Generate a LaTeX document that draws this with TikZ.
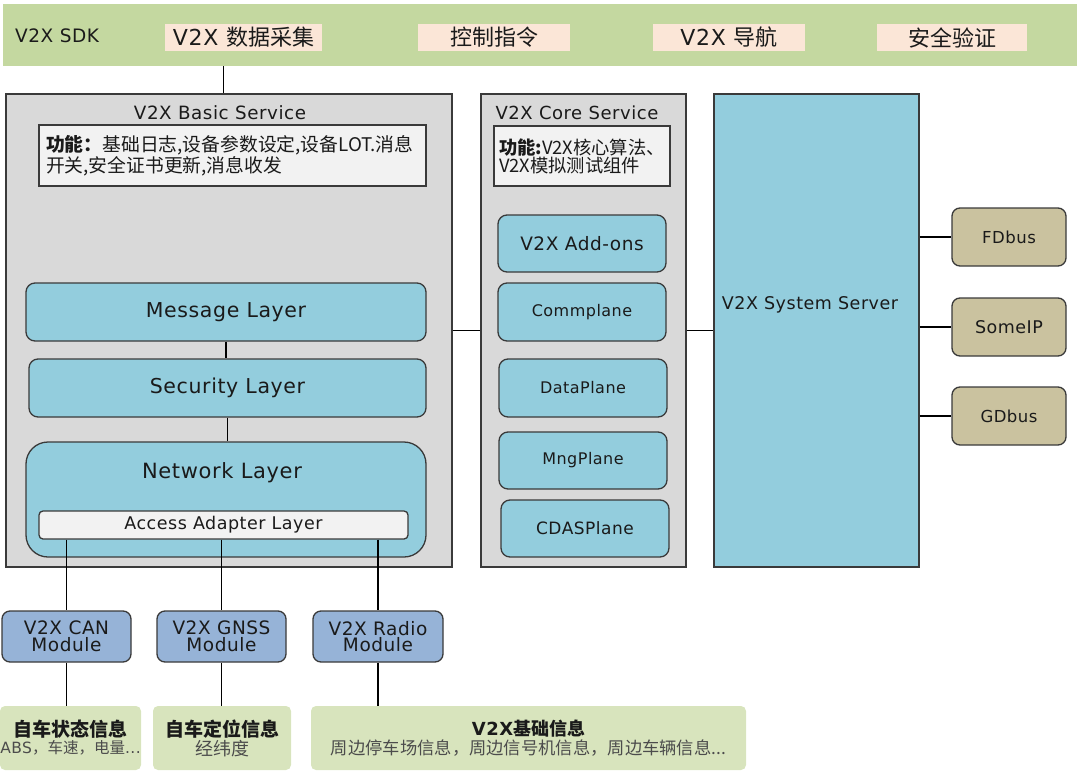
\documentclass[tikz,border=0pt]{standalone}
\usepackage{fontspec}
\setmainfont{DejaVu Sans}[LetterSpace=3]
\newfontfamily\cjk{Noto Sans CJK SC}
\usetikzlibrary{calc}
\definecolor{sdkgreen}{HTML}{C4D8A0}
\definecolor{peach}{HTML}{FBE6D7}
\definecolor{svgray}{HTML}{D9D9D9}
\definecolor{lightf}{HTML}{F2F2F2}
\definecolor{layblue}{HTML}{93CDDD}
\definecolor{modblue}{HTML}{96B3D7}
\definecolor{tan}{HTML}{CAC29F}
\definecolor{infogreen}{HTML}{D8E4BD}
\definecolor{edge}{HTML}{3A3A3A}
\definecolor{txt}{HTML}{1A1A1A}
\tikzset{
  fs/.style={font=\fontsize{#1}{#1}\selectfont},
  box/.style={draw=edge, line width=1.3pt, inner sep=0pt, text=txt, align=center},
  svc/.style={box, fill=svgray},
  funcbox/.style={box, fill=lightf, align=left, text width=#1, inner ysep=0pt},
  layer/.style={box, fill=layblue, rounded corners=9pt, fs=20.5},
  plane/.style={box, fill=layblue, rounded corners=9pt, fs=16},
  module/.style={box, fill=modblue, rounded corners=8pt, font=\fontsize{18.5}{16.5}\selectfont},
  bus/.style={box, fill=tan, rounded corners=8pt, fs=16.5},
  peachbox/.style={fill=peach, inner sep=0pt, minimum height=27pt, fs=22, text=txt},
  infobox/.style={fill=infogreen, rounded corners=5pt, inner sep=0pt, minimum height=64pt, align=center, text=txt},
  conn/.style={draw=black, line width=1.4pt},
}
\begin{document}
\begin{tikzpicture}[x=1pt, y=-1pt]
\useasboundingbox (0,0) rectangle (1080,782);

% SDK bar
\node[fill=sdkgreen, minimum width=1074pt, minimum height=62pt, inner sep=0pt] (sdk) at (540,35) {};
\node[anchor=west, fs=18.5, text=txt, inner sep=0pt] (sdklabel) at (15,36) {V2X SDK};
\node[peachbox, minimum width=157pt] (p1) at (243.5,37.5) {V2X {\cjk 数据采集}};
\node[peachbox, minimum width=152pt] (p2) at (494,37.5) {\cjk 控制指令};
\node[peachbox, minimum width=152pt] (p3) at (729,37.5) {V2X {\cjk 导航}};
\node[peachbox, minimum width=150pt] (p4) at (952,37.5) {\cjk 安全验证};

% Basic service
\node[svc, minimum width=446pt, minimum height=473pt] (basic) at (229,330.5) {};
\node[fs=18.3, text=txt, inner sep=0pt] (btitle) at (220,113) {V2X Basic Service};
\node[funcbox=373pt, inner xsep=7pt, minimum width=387pt, minimum height=61pt] (bfunc) at (232.5,155.5)
  {\fontsize{18.8}{22}\selectfont\cjk\textbf{功能：}基础日志,设备参数设定,设备LOT.消息\\开关,安全证书更新,消息收发};
\node[layer, minimum width=400pt, minimum height=58pt] (msg) at (226,312) {Message Layer};
\node[layer, minimum width=397pt, minimum height=58pt] (sec) at (227.5,388) {Security Layer};
\node[box, fill=layblue, rounded corners=22pt, minimum width=400pt, minimum height=115pt] (net) at (226,499.5) {};
\node[fs=21, text=txt, inner sep=0pt] (netlabel) at (222,473) {Network Layer};
\node[box, fill=lightf, rounded corners=4pt, minimum width=369pt, minimum height=28pt, fs=17.5] (acc) at (223.5,525) {Access Adapter Layer};

% Core service
\node[svc, minimum width=205pt, minimum height=473pt] (core) at (583.5,330.5) {};
\node[fs=18, text=txt, inner sep=0pt] (ctitle) at (577,113) {V2X Core Service};
\node[funcbox=166pt, inner xsep=5pt, minimum width=176pt, minimum height=60pt] (cfunc) at (582,156)
  {\fontsize{18.3}{22}\selectfont\cjk\textbf{功能:}V2X核心算法、\\V2X模拟测试组件};
\node[plane, minimum width=168pt, minimum height=57pt, fs=18.5] (addons) at (582,243.5) {V2X Add-ons};
\node[plane, minimum width=168pt, minimum height=58pt] (comm) at (582,312) {Commplane};
\node[plane, minimum width=168pt, minimum height=58pt] (data) at (583,388) {DataPlane};
\node[plane, minimum width=168pt, minimum height=57pt] (mng) at (583,460.5) {MngPlane};
\node[plane, minimum width=168pt, minimum height=57pt, fs=17] (cdas) at (585,528.5) {CDASPlane};

% System server
\node[box, fill=layblue, minimum width=205pt, minimum height=473pt] (server) at (816.5,330.5) {};
\node[fs=17.5, text=txt, inner sep=0pt] (serverlabel) at (810,305) {V2X System Server};

% Buses
\node[bus, minimum width=114pt, minimum height=58pt] (fd) at (1009,237) {FDbus};
\node[bus, minimum width=114pt, minimum height=58pt, fs=17.5] (some) at (1009,327) {SomeIP};
\node[bus, minimum width=114pt, minimum height=58pt] (gd) at (1009,416) {GDbus};

% Modules
\node[module, minimum width=129pt, minimum height=51pt] (can) at (66.5,636.5) {V2X CAN\\Module};
\node[module, minimum width=129pt, minimum height=51pt] (gnss) at (221.5,636.5) {V2X GNSS\\Module};
\node[module, minimum width=130pt, minimum height=51pt] (radio) at (378,636.5) {V2X Radio\\Module};

% Info boxes
\node[infobox, minimum width=141pt] (g1) at (70.5,738)
  {{\cjk\fontsize{19}{21}\selectfont\bfseries 自车状态信息}\\[1pt]{\color{black!70}\fontsize{15.5}{19}\selectfont ABS{\cjk ，车速，电量}...}};
\node[infobox, minimum width=138pt] (g2) at (222,738)
  {{\cjk\fontsize{19}{21}\selectfont\bfseries 自车定位信息}\\[1pt]{\color{black!70}\cjk\fontsize{18}{19}\selectfont 经纬度}};
\node[infobox, minimum width=435pt] (g3) at (528.5,738)
  {{\fontsize{18}{21}\selectfont\bfseries V2X{\cjk 基础信息}}\\[1pt]{\color{black!70}\cjk\fontsize{17.3}{19}\selectfont 周边停车场信息，周边信号机信息，周边车辆信息...}};

% Connectors
\draw[conn] (sdk.south -| acc) -- (basic.north -| acc);
\draw[conn] (msg.south) -- (msg.south |- sec.north);
\draw[conn] (sec.south) -- (sec.south |- net.north);
\draw[conn] (basic.east) -- (core.west);
\draw[conn] (core.east) -- (server.west);
\draw[conn] (fd.west -| server.east) -- (fd.west);
\draw[conn] (some.west -| server.east) -- (some.west);
\draw[conn] (gd.west -| server.east) -- (gd.west);
\draw[conn] (can.north |- acc.south) -- (can.north);
\draw[conn] (gnss.north |- acc.south) -- (gnss.north);
\draw[conn] (radio.north |- acc.south) -- (radio.north);
\draw[conn] (can.south) -- (can.south |- g1.north);
\draw[conn] (gnss.south) -- (gnss.south |- g2.north);
\draw[conn] (radio.south) -- (radio.south |- g3.north);
\end{tikzpicture}
\end{document}
